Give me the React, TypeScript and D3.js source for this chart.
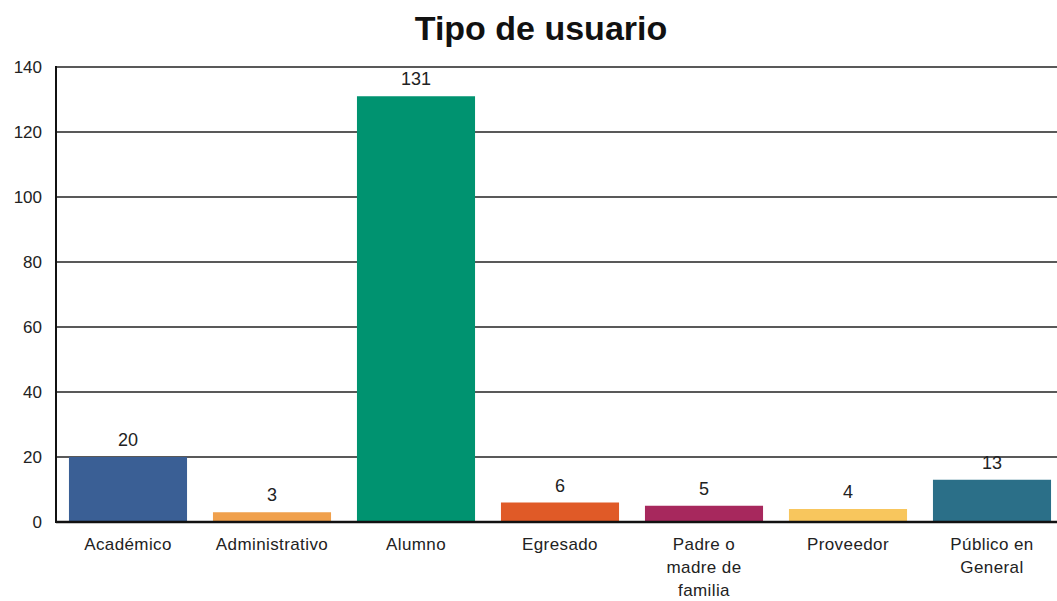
import React from "react";
import * as d3 from "d3";

const categories: string[][] = [
  ["Académico"],
  ["Administrativo"],
  ["Alumno"],
  ["Egresado"],
  ["Padre o", "madre de", "familia"],
  ["Proveedor"],
  ["Público en", "General"],
];
const values = [20, 3, 131, 6, 5, 4, 13];
const colors = ["#3a5f95", "#f0a04c", "#009370", "#e05a27", "#a7285d", "#f8c65d", "#2b6f88"];
const yTicks = [0, 20, 40, 60, 80, 100, 120, 140];
const title = "Tipo de usuario";

export default function App() {
  const W = 1057, H = 601;
  const left = 56, top = 67, bottom = 522, right = 1064;
  const x = d3.scaleBand<number>().domain(d3.range(values.length)).range([left, right]).paddingInner(0.18).paddingOuter(0.09);
  const y = d3.scaleLinear().domain([0, 140]).range([bottom, top]);
  const font = "Arial, 'Liberation Sans', sans-serif";
  return (
    <svg width={W} height={H} style={{ position: "absolute", left: 0, top: 0, background: "#fff" }} fontFamily={font}>
      <text x={541} y={40} textAnchor="middle" fontSize={34} fontWeight="bold" fill="#111">{title}</text>
      {yTicks.map((t) => (
        <g key={t}>
          {t > 0 && <line x1={left} x2={W} y1={y(t)} y2={y(t)} stroke="#222" strokeWidth={1.6} />}
          <text x={42} y={y(t) + 6} textAnchor="end" fontSize={17} fill="#222">{t}</text>
        </g>
      ))}
      {values.map((v, i) => (
        <g key={i}>
          <rect x={x(i)} y={y(v)} width={x.bandwidth()} height={bottom - y(v)} fill={colors[i]} />
          <text x={(x(i) as number) + x.bandwidth() / 2} y={y(v) - 11} textAnchor="middle" fontSize={18} fill="#222">{v}</text>
          {categories[i].map((line, j) => (
            <text key={j} x={(x(i) as number) + x.bandwidth() / 2} y={550 + j * 23} textAnchor="middle" fontSize={17} letterSpacing={0.4} fill="#222">{line}</text>
          ))}
        </g>
      ))}
      <line x1={left} x2={left} y1={top - 1} y2={bottom + 1} stroke="#111" strokeWidth={2} />
      <line x1={left} x2={W} y1={bottom} y2={bottom} stroke="#111" strokeWidth={2.5} />
    </svg>
  );
}
